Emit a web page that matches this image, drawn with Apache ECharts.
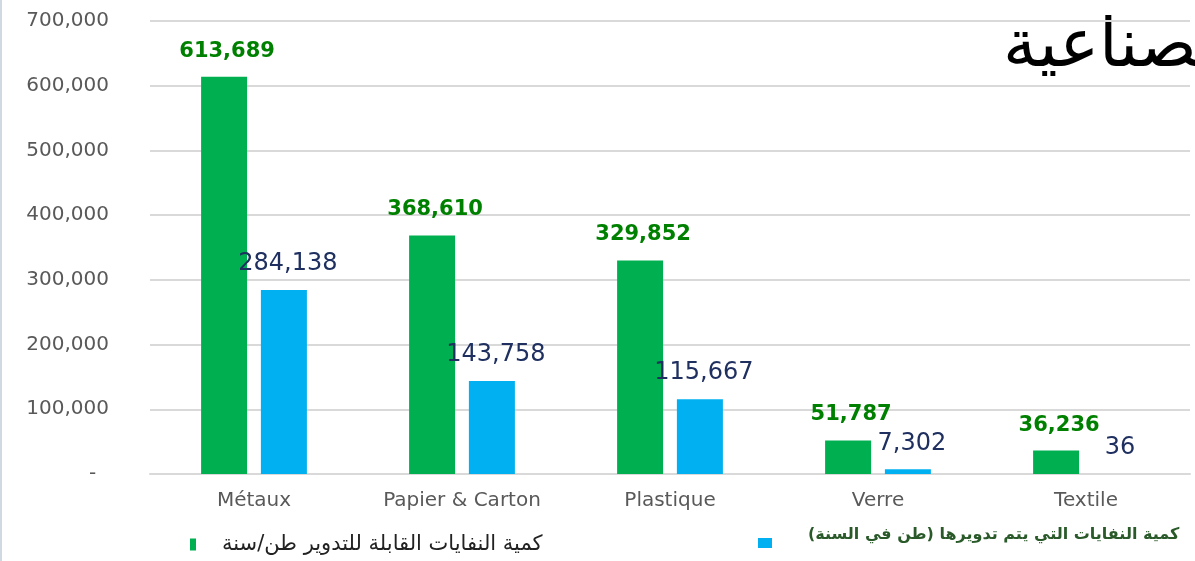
<!DOCTYPE html>
<html>
<head>
<meta charset="utf-8">
<script src="https://cdn.jsdelivr.net/npm/echarts@6/dist/echarts.min.js"></script>
<style>
  html, body { margin: 0; padding: 0; background: #fff; }
  #chart { width: 1195px; height: 561px; }
</style>
</head>
<body>
<div id="chart"></div>
<script>
var categories = ['Métaux', 'Papier & Carton', 'Plastique', 'Verre', 'Textile'];
var recyclable = [613689, 368610, 329852, 51787, 36236];
var recycled = [284138, 143758, 115667, 7302, 36];
var recyclableName = 'كمية النفايات القابلة للتدوير طن/سنة';
var recycledName = 'كمية النفايات التي يتم تدويرها (طن في السنة)';
var titleText = 'الصناعية';

function fmt(v) {
  return v === 0 ? '-  ' : v.toLocaleString('en-US');
}

var chart = echarts.init(document.getElementById('chart'));
var option = {
  animation: false,
  grid: { left: 150, right: 5, top: 21, bottom: 87 },
  graphic: [
    {
      type: 'line',
      shape: { x1: 1, y1: 0, x2: 1, y2: 561 },
      style: { stroke: '#d0d8e2', lineWidth: 2 }
    },
    {
      type: 'text',
      left: 1003,
      top: 15,
      style: {
        text: titleText,
        font: '67px "DejaVu Sans"',
        fill: '#000'
      }
    }
  ],
  legend: [
    {
      left: 190,
      top: 534,
      padding: 0,
      itemWidth: 6,
      itemHeight: 12,
      icon: 'rect',
      data: [recyclableName],
      textStyle: {
        fontFamily: 'DejaVu Sans',
        fontSize: 21,
        color: '#222',
        padding: [0, 0, 0, 21]
      }
    },
    {
      left: 758,
      top: 527,
      padding: 0,
      itemWidth: 14,
      itemHeight: 10,
      icon: 'rect',
      data: [recycledName],
      formatter: '{t|{name}}',
      textStyle: {
        rich: {
          t: {
            fontFamily: 'DejaVu Sans',
            fontSize: 16,
            fontWeight: 'bold',
            color: '#2a5a2a',
            padding: [0, 0, 16, 31]
          }
        }
      }
    }
  ],
  xAxis: {
    type: 'category',
    data: categories,
    axisLine: { lineStyle: { color: '#d9d9d9', width: 2 } },
    axisTick: { show: false },
    axisLabel: {
      color: '#595959',
      fontFamily: 'DejaVu Sans',
      fontSize: 20,
      margin: 17
    }
  },
  yAxis: {
    type: 'value',
    min: 0,
    max: 700000,
    interval: 100000,
    axisLine: { show: false },
    axisTick: { show: false },
    splitLine: { lineStyle: { color: '#d9d9d9', width: 2 } },
    axisLabel: {
      color: '#595959',
      fontFamily: 'DejaVu Sans',
      fontSize: 20,
      margin: 41,
      formatter: fmt
    }
  },
  series: [
    {
      name: recyclableName,
      type: 'bar',
      data: recyclable,
      barWidth: 46,
      barGap: '30%',
      itemStyle: { color: '#00b050' },
      label: {
        show: true,
        position: 'top',
        distance: 15,
        offset: [3, 0],
        color: '#008000',
        fontFamily: 'DejaVu Sans',
        fontWeight: 'bold',
        fontSize: 21,
        formatter: function (p) { return fmt(p.value); }
      }
    },
    {
      name: recycledName,
      type: 'bar',
      data: recycled,
      barWidth: 46,
      itemStyle: { color: '#00b0f0' },
      label: {
        show: true,
        position: 'top',
        distance: 14,
        offset: [4, 0],
        color: '#1f3060',
        fontFamily: 'DejaVu Sans',
        fontSize: 24,
        formatter: function (p) { return fmt(p.value); }
      }
    }
  ]
};
chart.setOption(option);
</script>
</body>
</html>
